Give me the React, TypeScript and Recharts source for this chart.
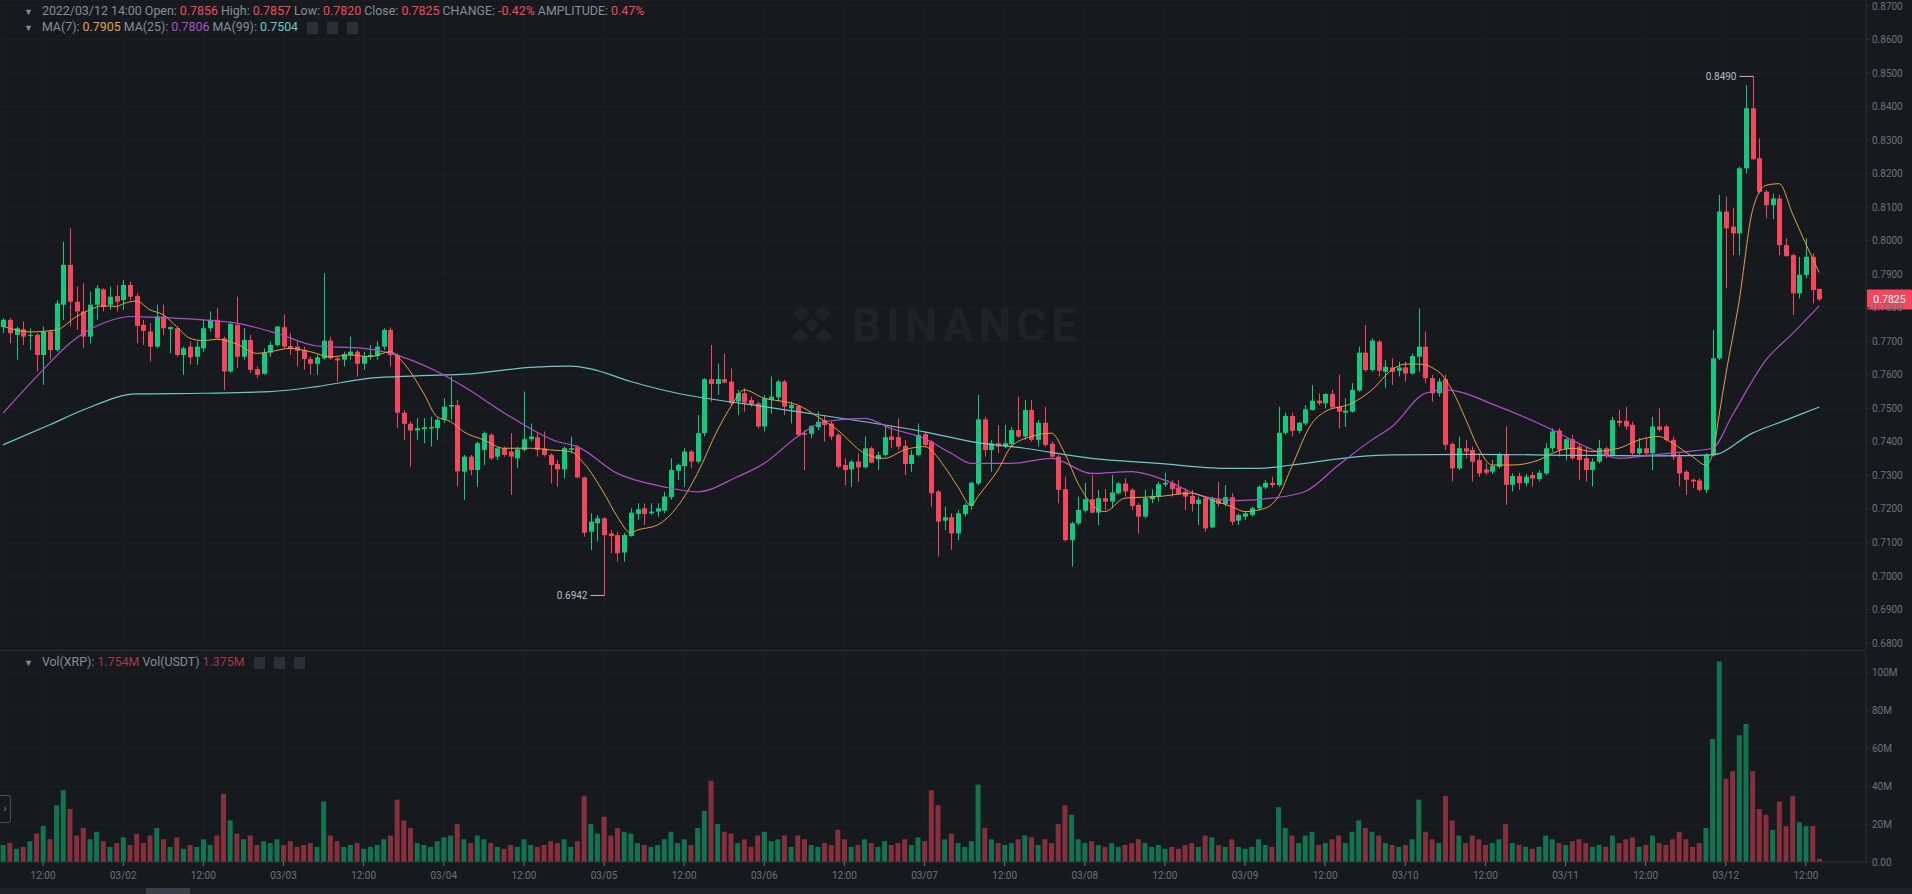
import React from "react";
import {
  ComposedChart,
  Bar,
  Line,
  XAxis,
  YAxis,
  CartesianGrid,
  ReferenceLine,
  Cell,
} from "recharts";

const COLORS = {
  bg: "#161a1e",
  up: "#0ecb81",
  down: "#f6465d",
  grid: "#1d2126",
  axis: "#2b2f36",
  text: "#6c727c",
  legend: "#848e9c",
  ma7: "#e3a04a",
  ma25: "#b04fc8",
  ma99: "#6fc7c9",
  mark: "#b7bdc6",
};

const FONT = "Roboto, 'Noto Sans', sans-serif";
const WIDTH = 1912;
const PRICE_H = 650;
const VOL_H = 238;

// XRP/USDT 1h candles, 03/01 06:00 -> 03/12 14:00
const opens = [
  0.7742, 0.7764, 0.7719, 0.7736, 0.7717, 0.7719, 0.7659, 0.7729, 0.7674, 0.7809,
  0.7928, 0.7818, 0.7789, 0.7714, 0.7809, 0.7855, 0.7809, 0.7835, 0.7823, 0.7868,
  0.7835, 0.7749, 0.7729, 0.7684, 0.7774, 0.7736, 0.7739, 0.7659, 0.7684, 0.7654,
  0.7679, 0.7739, 0.7764, 0.7709, 0.761, 0.7749, 0.7654, 0.7704, 0.7617, 0.7603,
  0.7666, 0.7689, 0.7742, 0.7686, 0.7684, 0.7674, 0.7647, 0.7633, 0.7649, 0.7702,
  0.7649, 0.7645, 0.7659, 0.7669, 0.7633, 0.7654, 0.7656, 0.7684, 0.7734, 0.7659,
  0.7487, 0.7454, 0.7434, 0.7438, 0.744, 0.7441, 0.7466, 0.7505, 0.751, 0.7311,
  0.7356, 0.7316, 0.7376, 0.7421, 0.7356, 0.7381, 0.7371, 0.7351, 0.7376, 0.7408,
  0.7414, 0.7381, 0.7361, 0.7334, 0.7318, 0.7376, 0.7384, 0.7294, 0.7132, 0.7157,
  0.7172, 0.7127, 0.7122, 0.707, 0.7119, 0.7185, 0.7202, 0.7187, 0.7192, 0.7195,
  0.7235, 0.7314, 0.7328, 0.7371, 0.7341, 0.7426, 0.7587, 0.7573, 0.7587, 0.758,
  0.752, 0.7545, 0.7525, 0.7515, 0.7446, 0.7525, 0.7533, 0.758, 0.75, 0.7507,
  0.7426, 0.7424, 0.7444, 0.7465, 0.7455, 0.7421, 0.7331, 0.7318, 0.7341, 0.7324,
  0.7381, 0.7348, 0.7361, 0.7416, 0.7414, 0.7388, 0.7334, 0.7361, 0.7423, 0.7401,
  0.7252, 0.7165, 0.7175, 0.7127, 0.7185, 0.7209, 0.7276, 0.7467, 0.7376, 0.7396,
  0.7386, 0.7394, 0.7435, 0.7416, 0.7495, 0.7406, 0.7457, 0.7394, 0.7356, 0.7259,
  0.7107, 0.7157, 0.7195, 0.7229, 0.7189, 0.7232, 0.7222, 0.7247, 0.7276, 0.7257,
  0.7212, 0.7177, 0.7229, 0.7237, 0.7273, 0.7278, 0.7264, 0.7252, 0.7239, 0.7215,
  0.7232, 0.7145, 0.7229, 0.7215, 0.7235, 0.7165, 0.7177, 0.7182, 0.7202, 0.7264,
  0.7278, 0.7271, 0.7427, 0.7477, 0.7433, 0.7455, 0.7495, 0.7523, 0.7515, 0.7543,
  0.7505, 0.7487, 0.749, 0.7553, 0.7666, 0.7614, 0.7699, 0.7609, 0.7622, 0.7612,
  0.7622, 0.7604, 0.7654, 0.7684, 0.759, 0.7545, 0.7587, 0.7394, 0.7321, 0.7381,
  0.7376, 0.7346, 0.7318, 0.7311, 0.7326, 0.7361, 0.7272, 0.7298, 0.7277, 0.7301,
  0.7289, 0.7306, 0.7381, 0.7434, 0.7378, 0.7408, 0.7386, 0.7351, 0.7316, 0.7341,
  0.7381, 0.7361, 0.7463, 0.7463, 0.7451, 0.7366, 0.7381, 0.7366, 0.7446, 0.7446,
  0.7406, 0.7356, 0.7311, 0.7287, 0.7285, 0.7257, 0.7361, 0.7649, 0.8087, 0.8042,
  0.8022, 0.8216, 0.8395, 0.8246, 0.8146, 0.8106, 0.8126, 0.7987, 0.7957, 0.7843,
  0.7898, 0.7952, 0.7856,
];

const highs = [
  0.7769, 0.7769, 0.7744, 0.7759, 0.7739, 0.7724, 0.7744, 0.7734, 0.7823, 0.7997,
  0.8037, 0.7863, 0.7873, 0.7848, 0.7868, 0.7858, 0.7863, 0.7868, 0.7883, 0.7878,
  0.7843, 0.7764, 0.7754, 0.7809, 0.7809, 0.7744, 0.7744, 0.7684, 0.7699, 0.7699,
  0.7764, 0.7789, 0.7799, 0.7714, 0.7759, 0.7833, 0.7739, 0.7719, 0.7625, 0.7679,
  0.7699, 0.7746, 0.7779, 0.7724, 0.7699, 0.7684, 0.7654, 0.7659, 0.7903, 0.7714,
  0.7654, 0.7669, 0.7714, 0.7674, 0.7669, 0.7689, 0.7699, 0.7739, 0.7742, 0.7664,
  0.7495, 0.7461, 0.7471, 0.7471, 0.7475, 0.7471, 0.753, 0.7595, 0.7525, 0.7361,
  0.7361, 0.7401, 0.7431, 0.7426, 0.7386, 0.7386, 0.7426, 0.7386, 0.755, 0.7455,
  0.7426, 0.7431, 0.7366, 0.7346, 0.7386, 0.7416, 0.7391, 0.7296, 0.7187, 0.7182,
  0.7175, 0.7137, 0.7132, 0.7129, 0.7202, 0.7217, 0.7217, 0.7217, 0.7217, 0.7251,
  0.7351, 0.7336, 0.7381, 0.7376, 0.748, 0.759, 0.7689, 0.7634, 0.7664, 0.7619,
  0.7555, 0.756, 0.7535, 0.752, 0.754, 0.7595, 0.7585, 0.7585, 0.752, 0.751,
  0.7435, 0.745, 0.749, 0.748, 0.746, 0.7426, 0.7351, 0.7346, 0.7366, 0.7416,
  0.7386, 0.7371, 0.7447, 0.745, 0.747, 0.7406, 0.7376, 0.7455, 0.7431, 0.7406,
  0.7257, 0.7207, 0.7187, 0.7197, 0.7217, 0.7281, 0.754, 0.7475, 0.7406, 0.745,
  0.745, 0.7445, 0.7535, 0.7525, 0.7525, 0.7465, 0.7505, 0.7401, 0.7361, 0.7296,
  0.7162, 0.7237, 0.7278, 0.7301, 0.7257, 0.7259, 0.7301, 0.7281, 0.7291, 0.7262,
  0.7217, 0.7257, 0.7259, 0.7281, 0.7308, 0.7286, 0.7286, 0.7262, 0.7257, 0.7237,
  0.7237, 0.7237, 0.7281, 0.7271, 0.7247, 0.7187, 0.7192, 0.7207, 0.7271, 0.7286,
  0.7296, 0.7505, 0.7487, 0.7487, 0.746, 0.751, 0.757, 0.7545, 0.7545, 0.7555,
  0.76, 0.753, 0.7575, 0.7684, 0.7749, 0.7709, 0.7704, 0.7644, 0.7649, 0.7639,
  0.7639, 0.7664, 0.7798, 0.7729, 0.76, 0.759, 0.76, 0.7398, 0.7416, 0.7406,
  0.7386, 0.7366, 0.7336, 0.7346, 0.7368, 0.7446, 0.7306, 0.7308, 0.7304, 0.7311,
  0.7316, 0.7396, 0.7441, 0.7441, 0.7411, 0.7421, 0.7396, 0.7386, 0.7351, 0.7406,
  0.7386, 0.7475, 0.7495, 0.7505, 0.746, 0.7411, 0.7411, 0.7475, 0.75, 0.7451,
  0.7416, 0.7366, 0.7316, 0.7291, 0.7291, 0.7366, 0.7734, 0.8137, 0.8131, 0.8097,
  0.8221, 0.8464, 0.849, 0.8305, 0.8151, 0.8141, 0.8137, 0.8007, 0.7962, 0.7952,
  0.8007, 0.7962, 0.7857,
];

const lows = [
  0.7724, 0.7694, 0.7645, 0.7689, 0.7674, 0.761, 0.757, 0.7645, 0.7669, 0.7764,
  0.7744, 0.7734, 0.7679, 0.7694, 0.7764, 0.7789, 0.7794, 0.7789, 0.7794, 0.7823,
  0.7694, 0.7689, 0.764, 0.7679, 0.7719, 0.7664, 0.7654, 0.76, 0.763, 0.763,
  0.7669, 0.7729, 0.7704, 0.7555, 0.7605, 0.762, 0.7645, 0.7605, 0.759, 0.76,
  0.7654, 0.7684, 0.7679, 0.7659, 0.7625, 0.7615, 0.76, 0.76, 0.7645, 0.7645,
  0.758, 0.7625, 0.7645, 0.7595, 0.7615, 0.7645, 0.7645, 0.7674, 0.7625, 0.7441,
  0.7406, 0.7326, 0.7406, 0.7396, 0.7386, 0.7406, 0.7456, 0.7466, 0.7267, 0.7227,
  0.7301, 0.7266, 0.7331, 0.7346, 0.7346, 0.7356, 0.7242, 0.7321, 0.7371, 0.7401,
  0.7356, 0.7356, 0.7276, 0.7266, 0.7291, 0.7366, 0.7291, 0.7117, 0.7077, 0.7104,
  0.6942, 0.7068, 0.7043, 0.7043, 0.7117, 0.7167, 0.7152, 0.7182, 0.7177, 0.7187,
  0.7227, 0.7286, 0.7266, 0.7321, 0.7336, 0.7416, 0.752, 0.754, 0.7575, 0.751,
  0.748, 0.749, 0.7505, 0.744, 0.7431, 0.7485, 0.752, 0.748, 0.7455, 0.7416,
  0.7316, 0.7411, 0.7435, 0.7401, 0.7406, 0.7321, 0.7271, 0.7266, 0.7281, 0.7321,
  0.7336, 0.7316, 0.7356, 0.7381, 0.7376, 0.7301, 0.7311, 0.7356, 0.7386, 0.7207,
  0.7058, 0.7137, 0.7078, 0.7107, 0.7177, 0.7197, 0.7271, 0.7356, 0.7311, 0.7366,
  0.7381, 0.7386, 0.7411, 0.7406, 0.7401, 0.7386, 0.7386, 0.7351, 0.7217, 0.7103,
  0.7028, 0.7152, 0.7189, 0.7187, 0.7152, 0.7197, 0.7202, 0.7242, 0.7237, 0.7197,
  0.7127, 0.7172, 0.7217, 0.7222, 0.7266, 0.7237, 0.7242, 0.7197, 0.7192, 0.7152,
  0.7132, 0.7142, 0.7207, 0.7207, 0.7152, 0.7152, 0.7167, 0.7177, 0.7195, 0.7259,
  0.7264, 0.7266, 0.7421, 0.7416, 0.7426, 0.745, 0.7493, 0.751, 0.75, 0.75,
  0.744, 0.7445, 0.7487, 0.755, 0.7609, 0.7609, 0.7595, 0.756, 0.757, 0.7595,
  0.758, 0.76, 0.7609, 0.7575, 0.752, 0.7535, 0.7376, 0.7282, 0.7316, 0.7351,
  0.7282, 0.7296, 0.7301, 0.7304, 0.7321, 0.7212, 0.7252, 0.7257, 0.7267, 0.7265,
  0.7282, 0.7301, 0.7371, 0.7356, 0.7346, 0.7346, 0.7287, 0.7282, 0.7267, 0.7336,
  0.7351, 0.7356, 0.7446, 0.7436, 0.7361, 0.7361, 0.7361, 0.7316, 0.7431, 0.7401,
  0.7346, 0.7267, 0.7242, 0.7262, 0.7252, 0.7247, 0.7356, 0.7644, 0.7858, 0.7957,
  0.7957, 0.8201, 0.8241, 0.8141, 0.8067, 0.8064, 0.7957, 0.7952, 0.7778, 0.7828,
  0.7888, 0.7813, 0.782,
];

const closes = [
  0.7764, 0.7724, 0.7739, 0.7714, 0.7719, 0.7659, 0.7729, 0.7674, 0.7813, 0.7928,
  0.7818, 0.7789, 0.7714, 0.7809, 0.7858, 0.7802, 0.7833, 0.7818, 0.7868, 0.7833,
  0.7746, 0.7731, 0.7684, 0.7774, 0.7739, 0.7742, 0.7659, 0.7679, 0.7652, 0.7684,
  0.7739, 0.7764, 0.7709, 0.761, 0.7752, 0.7654, 0.7704, 0.7615, 0.76, 0.7666,
  0.7689, 0.7744, 0.7684, 0.7679, 0.7672, 0.7647, 0.7633, 0.7652, 0.7702, 0.7649,
  0.7643, 0.7662, 0.7669, 0.7633, 0.7656, 0.7659, 0.7684, 0.7734, 0.7659, 0.7487,
  0.7454, 0.7434, 0.7441, 0.7444, 0.7444, 0.7466, 0.7505, 0.751, 0.7312, 0.7356,
  0.7316, 0.7396, 0.7426, 0.7351, 0.7381, 0.7361, 0.7356, 0.7378, 0.7408, 0.7416,
  0.7376, 0.7361, 0.7331, 0.7318, 0.7381, 0.7381, 0.7294, 0.7129, 0.7162, 0.7172,
  0.7122, 0.7119, 0.7068, 0.7122, 0.7189, 0.7199, 0.7185, 0.7192, 0.7202, 0.7237,
  0.7316, 0.7331, 0.7371, 0.7341, 0.7426, 0.7587, 0.7573, 0.7587, 0.7577, 0.7515,
  0.7545, 0.7517, 0.7513, 0.7446, 0.753, 0.7535, 0.758, 0.7505, 0.751, 0.7421,
  0.7421, 0.7447, 0.746, 0.745, 0.7416, 0.7326, 0.7316, 0.7341, 0.7324, 0.7381,
  0.7338, 0.7361, 0.7414, 0.7406, 0.7386, 0.7334, 0.7361, 0.7421, 0.7391, 0.7247,
  0.7162, 0.7175, 0.7127, 0.7187, 0.7212, 0.7278, 0.7467, 0.7376, 0.7396, 0.7386,
  0.7396, 0.7435, 0.7416, 0.7495, 0.7406, 0.7457, 0.7391, 0.7356, 0.7257, 0.7107,
  0.7157, 0.7197, 0.7229, 0.7189, 0.7232, 0.7222, 0.7249, 0.7276, 0.7252, 0.7209,
  0.7177, 0.7232, 0.7239, 0.7274, 0.7278, 0.7259, 0.7245, 0.7237, 0.7215, 0.7227,
  0.7142, 0.7232, 0.7215, 0.7235, 0.7162, 0.7182, 0.7187, 0.7202, 0.7266, 0.7278,
  0.7271, 0.7427, 0.7477, 0.7433, 0.7457, 0.7497, 0.7523, 0.7515, 0.7543, 0.7503,
  0.749, 0.7493, 0.7555, 0.7666, 0.7614, 0.7702, 0.7612, 0.7624, 0.7609, 0.7622,
  0.7604, 0.7656, 0.7684, 0.759, 0.7545, 0.758, 0.7391, 0.7321, 0.7381, 0.7371,
  0.7341, 0.7306, 0.7308, 0.7328, 0.7361, 0.7272, 0.7298, 0.7277, 0.7296, 0.7291,
  0.7308, 0.7381, 0.7431, 0.7376, 0.7408, 0.7351, 0.7346, 0.7316, 0.7341, 0.7381,
  0.7361, 0.7465, 0.7456, 0.7446, 0.7366, 0.7381, 0.7366, 0.7446, 0.7436, 0.7406,
  0.7356, 0.7306, 0.7287, 0.7282, 0.7257, 0.7361, 0.7649, 0.8087, 0.8037, 0.8022,
  0.8216, 0.8395, 0.8243, 0.8146, 0.8106, 0.8126, 0.7987, 0.7954, 0.7843, 0.7898,
  0.7952, 0.7853, 0.7825,
];

// volume in millions of XRP
const volumes = [
  9, 10, 7, 8, 11, 15, 19, 12, 30, 38,
  28, 14, 18, 12, 16, 11, 8, 10, 13, 9,
  15, 10, 14, 18, 12, 8, 13, 7, 9, 8,
  12, 9, 14, 36, 22, 15, 12, 14, 9, 11,
  10, 12, 9, 11, 8, 9, 10, 8, 32, 14,
  11, 8, 9, 10, 7, 8, 9, 12, 14, 33,
  22, 18, 10, 9, 8, 11, 13, 14, 20, 12,
  10, 14, 12, 10, 8, 7, 9, 8, 12, 9,
  8, 9, 11, 10, 12, 8, 11, 35, 20, 15,
  24, 14, 18, 16, 15, 10, 9, 8, 9, 12,
  16, 10, 12, 9, 18, 27, 43, 20, 16, 15,
  10, 12, 8, 14, 16, 11, 12, 14, 8, 14,
  12, 9, 8, 10, 9, 17, 12, 8, 9, 12,
  10, 8, 11, 9, 10, 12, 9, 13, 11, 38,
  30, 12, 15, 10, 8, 11, 41, 18, 12, 10,
  9, 10, 12, 14, 13, 9, 12, 10, 20, 30,
  25, 12, 10, 11, 9, 8, 10, 8, 9, 10,
  12, 10, 8, 9, 7, 8, 7, 9, 10, 8,
  14, 13, 9, 8, 12, 8, 7, 8, 12, 9,
  8, 29, 18, 14, 10, 14, 16, 9, 10, 12,
  14, 10, 16, 22, 18, 16, 14, 10, 9, 8,
  9, 12, 33, 16, 12, 10, 35, 22, 14, 10,
  14, 12, 9, 10, 12, 20, 10, 9, 8, 7,
  8, 14, 12, 10, 9, 11, 12, 10, 8, 9,
  8, 14, 10, 12, 13, 8, 9, 14, 10, 9,
  12, 16, 12, 8, 10, 18, 65, 106, 44, 48,
  67, 73, 48, 28, 25, 17, 32, 19, 35, 21,
  19, 19, 1.754,
];

// moving averages: [candle index, value]
const ma7Points = [
  [0, 0.7745], [4, 0.7728], [8, 0.7734], [11, 0.7774], [13, 0.7794], [15, 0.7806],
  [17, 0.7804], [18, 0.7812], [20, 0.782], [22, 0.7794], [24, 0.7779], [26, 0.7744],
  [28, 0.7709], [30, 0.7702], [32, 0.7706], [35, 0.7692], [38, 0.7664], [40, 0.7669],
  [43, 0.7679], [46, 0.7669], [49, 0.7654], [52, 0.7659], [55, 0.7654], [58, 0.7669],
  [60, 0.7635], [63, 0.7545], [65, 0.7475], [67, 0.7461], [69, 0.743], [72, 0.7406],
  [75, 0.7381], [79, 0.7381], [82, 0.7376], [85, 0.7371], [87, 0.7336], [90, 0.7247],
  [92, 0.7177], [94, 0.7129], [95, 0.7137], [98, 0.7152], [101, 0.7207], [104, 0.7306],
  [107, 0.7435], [109, 0.7505], [111, 0.7555], [114, 0.753], [117, 0.752], [119, 0.751],
  [122, 0.7475], [125, 0.7435], [129, 0.7366], [132, 0.7351], [135, 0.7376], [138, 0.7386],
  [141, 0.7326], [143, 0.7266], [145, 0.721], [146, 0.7237], [149, 0.7316], [151, 0.7386],
  [154, 0.7416], [157, 0.7426], [159, 0.7366], [161, 0.7276], [165, 0.7192], [168, 0.7232],
  [173, 0.7237], [178, 0.7247], [181, 0.7227], [184, 0.7207], [186, 0.7192], [189, 0.7202],
  [191, 0.7237], [193, 0.7326], [196, 0.7455], [198, 0.749], [202, 0.7515], [205, 0.7555],
  [208, 0.7615], [210, 0.7632], [212, 0.7632], [215, 0.7609], [217, 0.7555], [219, 0.747],
  [221, 0.738], [223, 0.7331], [226, 0.7331], [230, 0.7346], [232, 0.7366], [235, 0.7381],
  [238, 0.7371], [242, 0.7381], [245, 0.7406], [248, 0.7416], [250, 0.7396], [253, 0.7356],
  [255, 0.7331], [256, 0.7361], [257, 0.748], [258, 0.76], [260, 0.782], [262, 0.809],
  [264, 0.8165], [266, 0.817], [268, 0.808], [270, 0.799], [272, 0.7905],
];

const ma25Points = [
  [0, 0.7486], [6, 0.7615], [10, 0.7694], [12, 0.7724], [15, 0.7754], [19, 0.7774],
  [22, 0.7772], [30, 0.7764], [35, 0.7754], [41, 0.7724], [47, 0.7686], [54, 0.7679],
  [58, 0.7664], [65, 0.761], [69, 0.7565], [76, 0.7475], [83, 0.7401], [86, 0.7386],
  [92, 0.7306], [99, 0.7266], [104, 0.7251], [110, 0.7296], [114, 0.7336], [119, 0.7416],
  [123, 0.746], [129, 0.747], [133, 0.744], [138, 0.741], [142, 0.7366], [145, 0.7336],
  [151, 0.7336], [157, 0.7351], [163, 0.7306], [169, 0.7311], [174, 0.7286], [179, 0.7242],
  [185, 0.7225], [190, 0.7232], [195, 0.7252], [200, 0.7331], [205, 0.7406], [208, 0.7445],
  [213, 0.7545], [216, 0.7555], [224, 0.7505], [232, 0.7436], [237, 0.7386], [242, 0.7351],
  [247, 0.7361], [252, 0.7371], [256, 0.7381], [259, 0.748], [264, 0.7644], [268, 0.7723],
  [272, 0.7806],
];

const ma99Points = [
  [0, 0.7391], [7, 0.7451], [12, 0.7495], [20, 0.7543], [30, 0.7545], [40, 0.755],
  [47, 0.7565], [55, 0.759], [62, 0.7597], [70, 0.7603], [79, 0.7622], [85, 0.7626],
  [88, 0.7618], [94, 0.758], [101, 0.7545], [107, 0.7525], [114, 0.7505], [119, 0.749],
  [129, 0.746], [138, 0.743], [145, 0.7401], [153, 0.7381], [163, 0.7351], [173, 0.7336],
  [183, 0.7321], [188, 0.7321], [193, 0.7331], [203, 0.7356], [208, 0.7361], [220, 0.7363],
  [235, 0.736], [248, 0.7358], [256, 0.7361], [262, 0.7426], [267, 0.7465], [272, 0.7504],
];

const priceTicks = [
  0.68, 0.69, 0.7, 0.71, 0.72, 0.73, 0.74, 0.75, 0.76, 0.77,
  0.78, 0.79, 0.8, 0.81, 0.82, 0.83, 0.84, 0.85, 0.86, 0.87,
];
const volumeTicks = [0, 20e6, 40e6, 60e6, 80e6, 100e6];
const timeTicks = [
  6, 18, 30, 42, 54, 66, 78, 90, 102, 114, 126, 138,
  150, 162, 174, 186, 198, 210, 222, 234, 246, 258, 270,
];
const timeLabels = [
  "12:00", "03/02", "12:00", "03/03", "12:00", "03/04", "12:00", "03/05",
  "12:00", "03/06", "12:00", "03/07", "12:00", "03/08", "12:00", "03/09",
  "12:00", "03/10", "12:00", "03/11", "12:00", "03/12", "12:00",
];

const toMap = (pts: number[][]) => new Map(pts.map(([i, v]) => [i, v]));
const ma7Map = toMap(ma7Points);
const ma25Map = toMap(ma25Points);
const ma99Map = toMap(ma99Points);

const candles = opens.map((open, i) => ({
  i,
  open,
  high: highs[i],
  low: lows[i],
  close: closes[i],
  range: [lows[i], highs[i]],
  volume: volumes[i] * 1e6,
  ma7: ma7Map.get(i) ?? null,
  ma25: ma25Map.get(i) ?? null,
  ma99: ma99Map.get(i) ?? null,
}));

const hiIdx = highs.indexOf(Math.max(...highs));
const loIdx = lows.indexOf(Math.min(...lows));
const last = candles[candles.length - 1];

const X_DOMAIN: [number, number] = [-0.45, 279];

function Marker({ cx, cy, value }: { cx: number; cy: number; value: number }) {
  return (
    <g>
      <line x1={cx - 14} x2={cx} y1={cy} y2={cy} stroke={COLORS.mark} strokeWidth={1} />
      <text
        x={cx - 17}
        y={cy}
        dy="0.35em"
        textAnchor="end"
        fill={COLORS.mark}
        fontSize={10}
        fontFamily={FONT}
      >
        {value.toFixed(4)}
      </text>
    </g>
  );
}

function Candle(props: any) {
  const { x, y, width, height, payload } = props;
  if (x == null || y == null || !payload) return null;
  const { open, close, high, low, i } = payload;
  const top = Math.min(y, y + height);
  const span = Math.abs(height);
  const k = high > low ? span / (high - low) : 0;
  const py = (p: number) => top + (high - p) * k;
  const cx = Math.round(x + width / 2) + 0.5;
  const color = close >= open ? COLORS.up : COLORS.down;
  const bodyTop = py(Math.max(open, close));
  const bodyH = Math.max(1, py(Math.min(open, close)) - bodyTop);
  return (
    <g>
      <line x1={cx} x2={cx} y1={top} y2={top + span} stroke={color} strokeWidth={1} />
      <rect x={cx - 2.5} y={bodyTop} width={5} height={bodyH} fill={color} />
      {i === hiIdx && <Marker cx={cx} cy={top} value={high} />}
      {i === loIdx && <Marker cx={cx} cy={top + span} value={low} />}
    </g>
  );
}

function PriceTag(props: any) {
  const vb = props.viewBox;
  if (!vb) return null;
  const x = vb.x + vb.width;
  return (
    <g>
      <rect x={x + 1} y={vb.y - 10} width={45} height={20} fill={COLORS.down} rx={1} />
      <text
        x={x + 23.5}
        y={vb.y}
        dy="0.35em"
        textAnchor="middle"
        fill="#ffffff"
        fontSize={10.5}
        fontFamily={FONT}
      >
        {last.close.toFixed(4)}
      </text>
    </g>
  );
}

const axisTick = { fill: COLORS.text, fontSize: 10, fontFamily: FONT };

function PriceChart() {
  return (
    <ComposedChart
      width={WIDTH}
      height={PRICE_H}
      data={candles}
      margin={{ top: 0, right: 0, bottom: 0, left: 0 }}
    >
      <CartesianGrid stroke={COLORS.grid} />
      <XAxis
        dataKey="i"
        type="number"
        domain={X_DOMAIN}
        allowDataOverflow
        ticks={timeTicks}
        hide
      />
      <YAxis
        orientation="right"
        width={46}
        domain={[0.67793, 0.87179]}
        allowDataOverflow
        ticks={priceTicks}
        interval={0}
        tickFormatter={(v: number) => v.toFixed(4)}
        tick={axisTick}
        tickSize={4}
        tickMargin={2}
        axisLine={{ stroke: COLORS.axis }}
        tickLine={{ stroke: COLORS.axis }}
      />
      <Line dataKey="ma99" stroke={COLORS.ma99} strokeWidth={1.2} dot={false} activeDot={false} type="monotone" connectNulls isAnimationActive={false} />
      <Line dataKey="ma25" stroke={COLORS.ma25} strokeWidth={1.2} dot={false} activeDot={false} type="monotone" connectNulls isAnimationActive={false} />
      <Bar dataKey="range" barSize={5} shape={<Candle />} activeBar={false} isAnimationActive={false} />
      <Line dataKey="ma7" stroke={COLORS.ma7} strokeWidth={1} dot={false} activeDot={false} type="monotone" connectNulls isAnimationActive={false} />
      <ReferenceLine y={last.close} stroke={COLORS.down} strokeOpacity={0} label={<PriceTag />} />
    </ComposedChart>
  );
}

function VolumeChart() {
  return (
    <ComposedChart
      width={WIDTH}
      height={VOL_H}
      data={candles}
      margin={{ top: 4, right: 0, bottom: 0, left: 0 }}
    >
      <CartesianGrid stroke={COLORS.grid} />
      <XAxis
        dataKey="i"
        type="number"
        domain={X_DOMAIN}
        allowDataOverflow
        ticks={timeTicks}
        interval={0}
        height={26}
        tickFormatter={(v: number) => timeLabels[timeTicks.indexOf(v)] ?? ""}
        tick={axisTick}
        tickSize={4}
        tickMargin={6}
        axisLine={{ stroke: COLORS.axis }}
        tickLine={{ stroke: COLORS.text }}
      />
      <YAxis
        orientation="right"
        width={46}
        domain={[0, 110e6]}
        allowDataOverflow
        ticks={volumeTicks}
        interval={0}
        tickFormatter={(v: number) => (v === 0 ? "0.00" : `${v / 1e6}M`)}
        tick={axisTick}
        tickSize={4}
        tickMargin={2}
        axisLine={{ stroke: COLORS.axis }}
        tickLine={{ stroke: COLORS.axis }}
      />
      <Bar dataKey="volume" barSize={5} activeBar={false} isAnimationActive={false}>
        {candles.map((c) => (
          <Cell
            key={c.i}
            fill={c.close >= c.open ? COLORS.up : COLORS.down}
            fillOpacity={0.5}
          />
        ))}
      </Bar>
    </ComposedChart>
  );
}

const box = {
  display: "inline-block",
  width: 11,
  height: 12,
  marginLeft: 9,
  background: "#2b2f36",
  verticalAlign: "middle",
};

const row = {
  position: "absolute" as const,
  left: 24,
  fontSize: 12.4,
  lineHeight: "16px",
  whiteSpace: "nowrap" as const,
  color: COLORS.legend,
};

function InfoRows() {
  const red = { color: COLORS.down };
  const arrow = { marginRight: 9, fontSize: 9 };
  return (
    <>
      <div style={{ ...row, top: 3 }}>
        <span style={arrow}>▼</span>
        <span>2022/03/12 14:00 Open: </span>
        <span style={red}>{last.open.toFixed(4)}</span>
        <span> High: </span>
        <span style={red}>{last.high.toFixed(4)}</span>
        <span> Low: </span>
        <span style={red}>{last.low.toFixed(4)}</span>
        <span> Close: </span>
        <span style={red}>{last.close.toFixed(4)}</span>
        <span> CHANGE: </span>
        <span style={red}>-0.42%</span>
        <span> AMPLITUDE: </span>
        <span style={red}>0.47%</span>
      </div>
      <div style={{ ...row, top: 19 }}>
        <span style={arrow}>▼</span>
        <span>MA(7): </span>
        <span style={{ color: COLORS.ma7 }}>0.7905</span>
        <span> MA(25): </span>
        <span style={{ color: COLORS.ma25 }}>0.7806</span>
        <span> MA(99): </span>
        <span style={{ color: COLORS.ma99 }}>0.7504</span>
        <span style={box} />
        <span style={box} />
        <span style={box} />
      </div>
      <div style={{ ...row, top: 654 }}>
        <span style={arrow}>▼</span>
        <span>Vol(XRP): </span>
        <span style={{ color: "#a23a4a" }}>1.754M</span>
        <span> Vol(USDT) </span>
        <span style={{ color: "#a23a4a" }}>1.375M</span>
        <span style={box} />
        <span style={box} />
        <span style={box} />
      </div>
    </>
  );
}

function Watermark() {
  return (
    <div style={{ position: "absolute", left: 784, top: 297, display: "flex", alignItems: "center", gap: 12 }}>
      <svg width={56} height={56} viewBox="0 0 56 56">
        <g fill="#1f2328" transform="rotate(45 28 28)">
          <rect x={22} y={6} width={12} height={12} />
          <rect x={22} y={38} width={12} height={12} />
          <rect x={6} y={22} width={12} height={12} />
          <rect x={38} y={22} width={12} height={12} />
          <rect x={23} y={23} width={10} height={10} />
        </g>
      </svg>
      <span style={{ fontSize: 46, fontWeight: 700, letterSpacing: 5, color: "#1f2328" }}>BINANCE</span>
    </div>
  );
}

export default function App() {
  return (
    <div
      style={{
        position: "fixed",
        left: 0,
        top: 0,
        width: WIDTH,
        height: 894,
        background: COLORS.bg,
        overflow: "hidden",
        fontFamily: FONT,
      }}
    >
      <Watermark />
      <div style={{ position: "absolute", left: 0, top: 0 }}>
        <PriceChart />
      </div>
      <div style={{ position: "absolute", left: 0, top: 650, width: 1866, height: 1, background: COLORS.axis }} />
      <div style={{ position: "absolute", left: 0, top: 650 }}>
        <VolumeChart />
      </div>
      <InfoRows />
      <div
        style={{
          position: "absolute",
          left: 0,
          top: 795,
          width: 10,
          height: 26,
          border: "1px solid #474d57",
          borderLeft: "none",
          borderRadius: "0 3px 3px 0",
          color: COLORS.legend,
          fontSize: 10,
          lineHeight: "26px",
          textAlign: "center",
          background: COLORS.bg,
        }}
      >
        ›
      </div>
      <div style={{ position: "absolute", left: 0, top: 888, width: WIDTH, height: 6, background: "#1e2329" }} />
      <div style={{ position: "absolute", left: 146, top: 888, width: 44, height: 6, background: "#3a4049" }} />
    </div>
  );
}
